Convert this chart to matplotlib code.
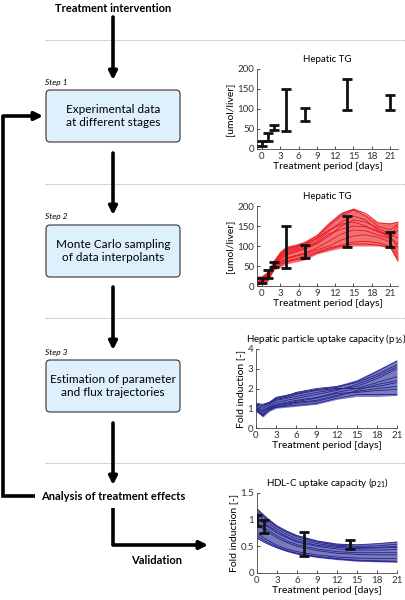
import numpy as np
import matplotlib.pyplot as plt
from matplotlib.patches import FancyBboxPatch

plt.rcParams['font.family'] = ['Lato', 'DejaVu Sans']
plt.rcParams['mathtext.fontset'] = 'custom'
plt.rcParams['mathtext.rm'] = 'Lato'
plt.rcParams['mathtext.default'] = 'regular'

# data
days_tg = [0, 1, 2, 4, 7, 14, 21]
tg_low = [8, 19, 48, 44, 70, 97, 97]
tg_high = [21, 39, 61, 149, 103, 176, 136]

# Monte Carlo trajectories, hepatic TG
t_tg = [-1, 0, 1, 2, 3, 4, 5.5, 7, 9, 11, 13, 15, 17, 19, 21, 22.3]
tg_env_low = [0, 5, 12, 40, 47, 55, 60, 65, 80, 88, 95, 100, 100, 100, 95, 60]
tg_env_high = [25, 25, 38, 65, 88, 100, 105, 112, 130, 160, 185, 195, 180, 160, 158, 162]
tg_traj = [
    [2, 8, 15, 45, 55, 62, 68, 75, 85, 95, 102, 110, 112, 108, 100, 70],
    [20, 20, 30, 58, 78, 92, 98, 105, 120, 150, 175, 190, 175, 150, 140, 155],
    [10, 12, 22, 50, 65, 78, 85, 92, 105, 125, 150, 165, 160, 145, 130, 120],
    [15, 16, 26, 55, 72, 85, 92, 98, 112, 138, 160, 175, 165, 140, 125, 95],
    [5, 10, 18, 48, 60, 70, 76, 82, 95, 112, 130, 140, 138, 128, 118, 140],
    [22, 22, 34, 62, 82, 95, 100, 108, 125, 155, 180, 192, 182, 158, 155, 160],
    [8, 11, 20, 46, 58, 68, 74, 80, 90, 100, 115, 125, 128, 122, 110, 80],
    [18, 18, 28, 56, 75, 88, 95, 102, 118, 140, 155, 160, 150, 135, 128, 150],
    [12, 14, 24, 52, 68, 80, 88, 95, 108, 130, 142, 150, 148, 138, 120, 105],
    [3, 7, 14, 42, 52, 60, 65, 70, 82, 92, 100, 105, 105, 102, 98, 62],
]

# hepatic particle uptake capacity p16
t_p16 = [0, 1, 2, 3, 4.5, 6, 9, 12, 15, 18, 21]
p16_env_low = [0.85, 0.55, 0.85, 1.0, 1.05, 1.1, 1.2, 1.45, 1.6, 1.6, 1.65]
p16_env_high = [1.25, 1.2, 1.35, 1.6, 1.7, 1.85, 2.0, 2.15, 2.45, 2.95, 3.45]
p16_traj = [
    [1.0, 0.6, 0.95, 1.05, 1.1, 1.15, 1.25, 1.5, 1.7, 1.7, 1.7],
    [1.2, 1.15, 1.3, 1.55, 1.65, 1.75, 1.95, 2.05, 2.35, 2.85, 3.4],
    [0.9, 0.8, 1.05, 1.2, 1.3, 1.4, 1.55, 1.8, 2.0, 2.3, 2.6],
    [1.1, 1.0, 1.2, 1.4, 1.5, 1.6, 1.8, 1.95, 2.1, 2.5, 3.0],
    [0.95, 0.7, 0.95, 1.1, 1.2, 1.3, 1.4, 1.65, 1.85, 2.0, 2.1],
    [1.05, 0.9, 1.1, 1.3, 1.4, 1.5, 1.7, 1.9, 2.2, 2.6, 3.1],
    [1.15, 1.1, 1.25, 1.45, 1.55, 1.7, 1.9, 2.0, 2.0, 2.1, 2.3],
    [0.85, 0.65, 0.9, 1.05, 1.15, 1.25, 1.35, 1.6, 1.9, 2.2, 2.4],
    [1.25, 1.2, 1.3, 1.5, 1.6, 1.8, 2.0, 2.1, 2.3, 2.7, 3.2],
    [1.0, 0.85, 1.0, 1.15, 1.25, 1.35, 1.5, 1.75, 1.8, 1.9, 1.95],
]

# HDL-C uptake capacity p21
t_p21 = [0, 1.5, 3, 4.5, 6, 9, 12, 15, 18, 21]
p21_env_low = [0.65, 0.55, 0.47, 0.4, 0.35, 0.29, 0.25, 0.22, 0.21, 0.2]
p21_env_high = [1.22, 1.05, 0.9, 0.8, 0.72, 0.62, 0.56, 0.54, 0.56, 0.6]
p21_traj = [
    [1.2, 1.02, 0.88, 0.78, 0.7, 0.6, 0.54, 0.53, 0.55, 0.58],
    [1.1, 0.95, 0.82, 0.72, 0.64, 0.55, 0.5, 0.48, 0.48, 0.5],
    [1.0, 0.88, 0.75, 0.66, 0.58, 0.5, 0.45, 0.43, 0.43, 0.44],
    [0.95, 0.82, 0.7, 0.6, 0.53, 0.45, 0.4, 0.38, 0.38, 0.38],
    [1.05, 0.9, 0.78, 0.68, 0.6, 0.52, 0.48, 0.46, 0.47, 0.48],
    [0.9, 0.78, 0.66, 0.57, 0.5, 0.42, 0.37, 0.35, 0.34, 0.34],
    [0.75, 0.62, 0.52, 0.45, 0.4, 0.34, 0.3, 0.28, 0.27, 0.27],
    [0.7, 0.58, 0.49, 0.42, 0.37, 0.31, 0.27, 0.24, 0.23, 0.22],
    [0.65, 0.55, 0.47, 0.41, 0.36, 0.3, 0.26, 0.23, 0.22, 0.21],
    [1.15, 1.0, 0.86, 0.76, 0.68, 0.58, 0.52, 0.5, 0.51, 0.54],
]
days_hdl = [0, 1, 7, 14]
hdl_low = [0.88, 0.75, 0.31, 0.45]
hdl_high = [1.09, 1.0, 0.77, 0.62]

RED = '#e8141b'
BLUE = '#23238e'
W, H = 406, 600

fig = plt.figure(figsize=(W / 100, H / 100), dpi=100)

# ---- flow chart layer (pixel coordinates) ----
fl = fig.add_axes([0, 0, 1, 1])
fl.set_xlim(0, W)
fl.set_ylim(H, 0)
fl.axis('off')


def arrow(ax, pts):
    xs = [p[0] for p in pts]
    ys = [p[1] for p in pts]
    if len(pts) > 2:
        ax.plot(xs[:-1], ys[:-1], color='k', lw=2.6, solid_joinstyle='miter',
                solid_capstyle='butt')
    ax.annotate('', xy=pts[-1], xytext=pts[-2],
                arrowprops=dict(arrowstyle='-|>', lw=2.6, color='k',
                                mutation_scale=12, shrinkA=0, shrinkB=0))


for yy in [40, 184, 318, 463]:
    fl.plot([45, W], [yy, yy], color='#999999', lw=0.6, ls=(0, (1, 1)))

fl.text(113, 8, 'Treatment intervention', ha='center', va='center',
        fontsize=8, fontweight='bold')

boxes = [(90, 'Experimental data\nat different stages', 'Step 1'),
         (225, 'Monte Carlo sampling\nof data interpolants', 'Step 2'),
         (360, 'Estimation of parameter\nand flux trajectories', 'Step 3')]
for top, label, step in boxes:
    fl.add_patch(FancyBboxPatch((46, top), 134, 52,
                                boxstyle='round,pad=0,rounding_size=4',
                                fc='#ddf0fb', ec='#333333', lw=0.8))
    fl.text(113, top + 26, label, ha='center', va='center', fontsize=8.5,
            linespacing=1.3)
    fl.text(45, top - 8, step, ha='left', va='center', fontsize=6,
            style='italic')

arrow(fl, [(113, 17), (113, 80)])
arrow(fl, [(113, 153), (113, 215)])
arrow(fl, [(113, 287), (113, 350)])
arrow(fl, [(113, 423), (113, 485)])
arrow(fl, [(35, 496), (3, 496), (3, 116), (43, 116)])
arrow(fl, [(113, 508), (113, 545), (208, 545)])

fl.text(113, 496, 'Analysis of treatment effects', ha='center', va='center',
        fontsize=8, fontweight='bold')
fl.text(157, 561, 'Validation', ha='center', va='center', fontsize=8,
        fontweight='bold')


# ---- chart panels ----
def style(ax, title, ylabel):
    for s in ['top', 'right']:
        ax.spines[s].set_visible(False)
    for s in ['left', 'bottom']:
        ax.spines[s].set_linewidth(0.6)
        ax.spines[s].set_color('#444444')
    ax.tick_params(direction='in', length=2, width=0.6, labelsize=7, pad=2,
                   colors='#333333')
    ax.set_title(title, fontsize=7, pad=5)
    ax.set_ylabel(ylabel, fontsize=7.5, labelpad=2)
    ax.set_xlabel('Treatment period [days]', fontsize=7.5, labelpad=1)
    ax.set_xticks(range(0, 22, 3))


def errbars(ax, x, lo, hi):
    lo = np.array(lo)
    hi = np.array(hi)
    ax.errorbar(x, (lo + hi) / 2, yerr=(hi - lo) / 2, fmt='none', ecolor='#111111',
                elinewidth=2, capsize=3.5, capthick=2, zorder=5)


def axes_px(left, top, right, bottom):
    return fig.add_axes([left / W, 1 - bottom / H, (right - left) / W,
                         (bottom - top) / H])


# panel 1
ax1 = axes_px(257, 69, 398, 149)
errbars(ax1, days_tg, tg_low, tg_high)
ax1.set_xlim(-0.8, 22.3)
ax1.set_ylim(0, 200)
ax1.set_yticks([0, 50, 100, 150, 200])
style(ax1, 'Hepatic TG', '[umol/liver]')

# panel 2
ax2 = axes_px(257, 206, 398, 286)
ax2.fill_between(t_tg, tg_env_low, tg_env_high, color=RED, alpha=0.6, lw=0)
for tr in tg_traj:
    ax2.plot(t_tg, tr, color=RED, lw=0.6)
errbars(ax2, days_tg, tg_low, tg_high)
ax2.set_xlim(-0.8, 22.3)
ax2.set_ylim(0, 200)
ax2.set_yticks([0, 50, 100, 150, 200])
style(ax2, 'Hepatic TG', '[umol/liver]')

# panel 3
ax3 = axes_px(256, 349, 397, 428)
ax3.fill_between(t_p16, p16_env_low, p16_env_high, color=BLUE, alpha=0.6, lw=0)
for tr in p16_traj:
    ax3.plot(t_p16, tr, color=BLUE, lw=0.6)
ax3.set_xlim(0, 21)
ax3.set_ylim(0, 4)
ax3.set_yticks([0, 1, 2, 3, 4])
style(ax3, r'Hepatic particle uptake capacity (p$_{16}$)', 'Fold induction [-]')

# panel 4
ax4 = axes_px(257, 493, 397, 573)
ax4.fill_between(t_p21, p21_env_low, p21_env_high, color=BLUE, alpha=0.6, lw=0)
for tr in p21_traj:
    ax4.plot(t_p21, tr, color=BLUE, lw=0.6)
errbars(ax4, days_hdl, hdl_low, hdl_high)
ax4.set_xlim(0, 21)
ax4.set_ylim(0, 1.5)
ax4.set_yticks([0, 0.5, 1, 1.5])
ax4.set_yticklabels(['0', '0.5', '1', '1.5'])
style(ax4, r'HDL-C uptake capacity (p$_{21}$)', 'Fold induction [-]')

fig.savefig('out.png', dpi=100)
